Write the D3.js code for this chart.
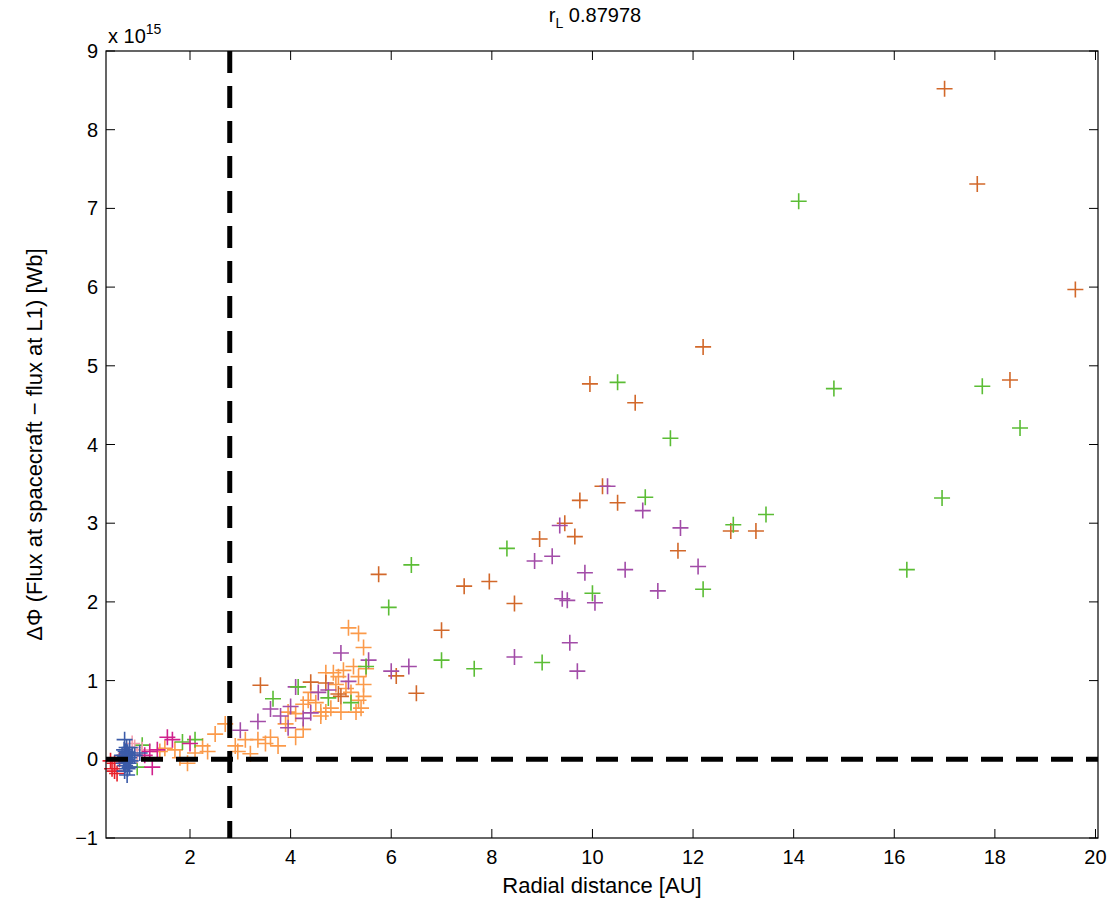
<!DOCTYPE html>
<html><head><meta charset="utf-8">
<script src="https://cdn.jsdelivr.net/npm/d3@7"></script>
<style>body{margin:0;background:#fff}text{font-family:"Liberation Sans",Arial,sans-serif}</style>
</head><body>
<svg id="chart" width="1107" height="902"></svg>
<script>
// values: [AU, 1e15 Wb]
const darkOrange = [[17.0,8.52],[17.65,7.31],[19.6,5.97],[12.2,5.24],[9.95,4.77],[10.85,4.53],[18.3,4.82],[10.2,3.47],[9.75,3.29],[10.5,3.26],[9.45,3.0],[8.95,2.8],[9.65,2.83],[11.7,2.65],[12.75,2.9],[13.25,2.9],[5.75,2.35],[7.45,2.2],[7.95,2.26],[8.45,1.98],[7.0,1.64],[6.1,1.06],[6.5,0.84],[3.4,0.94],[4.7,0.97],[5.0,0.8],[4.4,0.98],[4.95,0.83]]
const green = [[14.1,7.09],[14.8,4.71],[17.75,4.74],[18.5,4.21],[16.95,3.32],[16.25,2.41],[10.5,4.79],[11.55,4.08],[11.05,3.33],[13.45,3.11],[12.8,2.98],[12.2,2.16],[10.0,2.11],[8.3,2.68],[6.4,2.47],[5.95,1.93],[7.0,1.26],[7.65,1.15],[9.0,1.23],[3.65,0.77],[4.15,0.92],[5.5,1.18],[5.2,0.72],[4.75,0.78],[1.05,0.18],[2.1,0.25],[0.95,-0.1],[1.85,0.22]]
const purple = [[10.3,3.47],[11.0,3.16],[9.35,2.97],[8.85,2.52],[9.2,2.58],[9.85,2.37],[10.65,2.41],[11.75,2.94],[12.1,2.45],[11.3,2.14],[9.4,2.04],[9.5,2.02],[10.05,1.99],[9.55,1.48],[9.7,1.12],[8.45,1.3],[6.0,1.12],[6.35,1.18],[5.0,1.35],[5.55,1.26],[4.75,0.88],[4.55,0.85],[3.0,0.37],[3.35,0.48],[4.0,0.67],[3.8,0.55],[4.25,0.52],[4.4,0.59],[5.15,0.99],[3.95,0.4],[3.6,0.64],[4.1,0.92]]
const lightOrange = [[5.15,1.67],[5.35,1.6],[5.45,1.42],[5.05,1.13],[5.25,1.18],[5.35,1.05],[5.45,0.95],[5.35,0.75],[5.45,0.8],[5.4,0.65],[5.3,0.6],[5.0,0.6],[4.8,0.65],[4.6,0.6],[4.5,0.72],[4.25,0.7],[4.1,0.58],[3.9,0.45],[4.25,0.38],[3.6,0.28],[3.75,0.17],[3.35,0.25],[3.5,0.2],[3.2,0.07],[2.95,0.1],[2.7,0.45],[2.5,0.32],[2.9,0.17],[2.35,0.1],[2.1,0.08],[1.95,-0.05],[1.8,0.02],[1.4,0.1],[1.5,0.14],[4.1,0.28],[4.6,0.55],[4.9,0.95],[4.85,1.1],[4.95,1.05],[5.1,0.9],[4.7,0.6],[2.25,0.17],[1.7,0.12],[3.1,0.25],[4.7,1.1],[5.5,1.15],[5.2,0.85],[4.4,0.85],[3.95,0.6],[4.35,0.75]]
const red = [[0.45,-0.12],[0.5,-0.05],[0.55,-0.18],[0.6,0.0],[0.7,0.05],[0.5,-0.15],[0.42,-0.02]]
const pink = [[1.05,0.12],[0.9,0.15],[0.95,0.05],[0.85,0.2]]
const magenta = [[1.2,0.1],[1.55,0.28],[1.65,0.25],[2.0,0.2],[1.25,-0.1],[1.1,0.05],[1.35,0.12]]
const blue = [[0.7,0.25],[0.72,0.1],[0.75,0.0],[0.78,-0.05],[0.8,-0.1],[0.7,-0.15],[0.65,0.05],[0.85,0.05],[0.75,-0.2],[0.8,0.15],[0.9,0.05],[1.0,0.08],[0.72,0.02],[0.77,0.05],[0.68,-0.05],[0.71,-0.08],[0.74,0.07],[0.76,-0.12],[0.79,0.02],[0.73,-0.03],[0.69,0.12],[0.82,-0.02],[0.74,0.15],[0.76,0.09],[0.71,0.04]]
const xTicks = [2,4,6,8,10,12,14,16,18,20]
const yTicks = [-1,0,1,2,3,4,5,6,7,8,9]
const rLimit = 2.79

const series = [
    {data: lightOrange, color: '#fb9a4a'},
    {data: darkOrange, color: '#d2682a'},
    {data: purple, color: '#a24ca8'},
    {data: green, color: '#5bbd35'},
    {data: red, color: '#e8202a'},
    {data: pink, color: '#f4a0b0'},
    {data: magenta, color: '#d0208c'},
    {data: blue, color: '#3b5ba8'}
]

const svg = d3.select('#chart')
const m = {left: 106, top: 51, right: 1098, bottom: 838}
const x = d3.scaleLinear().domain([0.33, 20.05]).range([m.left, m.right])
const y = d3.scaleLinear().domain([-1, 9]).range([m.bottom, m.top])

const tickLen = 9
const axes = svg.append('g').attr('font-size', 20)
xTicks.forEach(t => {
    axes.append('line').attr('x1', x(t)).attr('x2', x(t)).attr('y1', m.bottom).attr('y2', m.bottom - tickLen).attr('stroke', '#000')
    axes.append('line').attr('x1', x(t)).attr('x2', x(t)).attr('y1', m.top).attr('y2', m.top + tickLen).attr('stroke', '#000')
    axes.append('text').attr('x', x(t)).attr('y', m.bottom + 26).attr('text-anchor', 'middle').text(t)
})
yTicks.forEach(t => {
    axes.append('line').attr('x1', m.left).attr('x2', m.left + tickLen).attr('y1', y(t)).attr('y2', y(t)).attr('stroke', '#000')
    axes.append('line').attr('x1', m.right).attr('x2', m.right - tickLen).attr('y1', y(t)).attr('y2', y(t)).attr('stroke', '#000')
    axes.append('text').attr('x', m.left - 8).attr('y', y(t)).attr('dy', '0.35em').attr('text-anchor', 'end').text(t < 0 ? '\u2212' + (-t) : t)
})

const marks = svg.append('g')
series.forEach(s => {
    marks.selectAll(null).data(s.data).join('path')
        .attr('d', d => `M${x(d[0]) - 8},${y(d[1])}H${x(d[0]) + 8}M${x(d[0])},${y(d[1]) - 8}V${y(d[1]) + 8}`)
        .attr('stroke', s.color).attr('stroke-width', 1.6).attr('fill', 'none')
})

svg.append('line').attr('x1', m.left).attr('x2', m.right).attr('y1', y(0)).attr('y2', y(0))
    .attr('stroke', '#000').attr('stroke-width', 5).attr('stroke-dasharray', '22,13')
svg.append('line').attr('x1', x(rLimit)).attr('x2', x(rLimit)).attr('y1', m.top).attr('y2', m.bottom)
    .attr('stroke', '#000').attr('stroke-width', 5).attr('stroke-dasharray', '22,13')

svg.append('rect').attr('x', m.left).attr('y', m.top).attr('width', m.right - m.left).attr('height', m.bottom - m.top)
    .attr('fill', 'none').attr('stroke', '#000').attr('stroke-width', 1.2)

svg.append('text').attr('x', 108).attr('y', 43).attr('font-size', 20).text('x 10')
    .append('tspan').attr('font-size', 14).attr('dy', -9).text('15')

const title = svg.append('text').attr('x', 595).attr('y', 22).attr('text-anchor', 'middle').attr('font-size', 20)
title.append('tspan').text('r')
title.append('tspan').attr('font-size', 14).attr('dy', 6).text('L')
title.append('tspan').attr('dy', -6).text(' 0.87978')

svg.append('text').attr('x', (m.left + m.right) / 2).attr('y', 893).attr('text-anchor', 'middle').attr('font-size', 22)
    .text('Radial distance [AU]')
svg.append('text').attr('transform', `translate(42, ${(m.top + m.bottom) / 2}) rotate(-90)`).attr('text-anchor', 'middle').attr('font-size', 22)
    .text('\u0394\u03A6 (Flux at spacecraft \u2212 flux at L1) [Wb]')
</script>
</body></html>
